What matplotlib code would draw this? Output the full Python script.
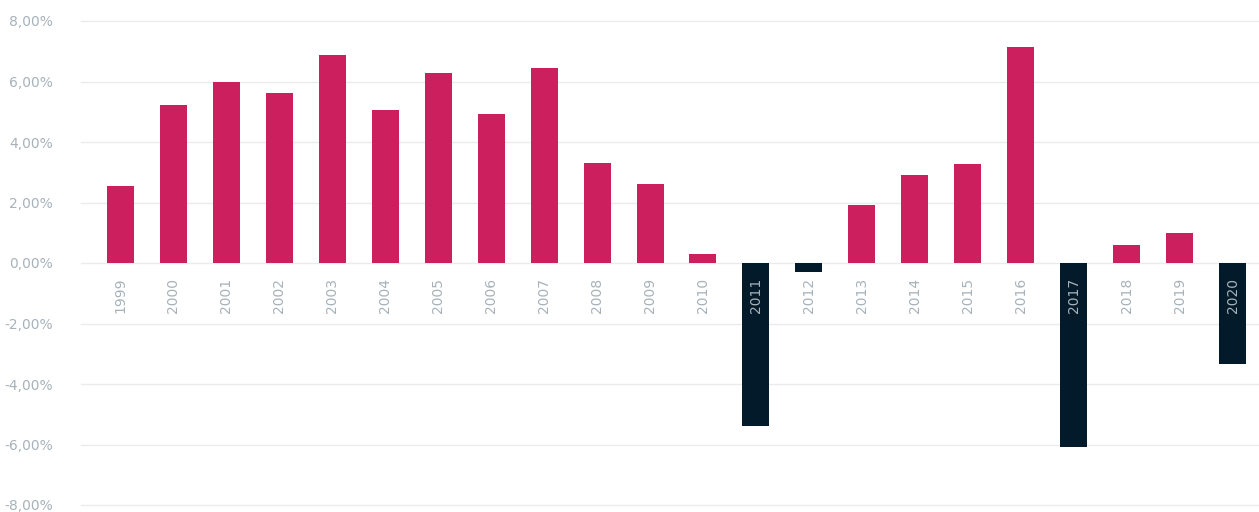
import matplotlib
matplotlib.use('Agg')
import matplotlib.pyplot as plt
from matplotlib.ticker import FuncFormatter, MultipleLocator
import numpy as np

plt.rcParams['font.family'] = ['DejaVu Sans']
plt.rcParams['axes.unicode_minus'] = False

# Yearly change in percent
years = ['1999', '2000', '2001', '2002', '2003', '2004', '2005', '2006',
         '2007', '2008', '2009', '2010', '2011', '2012', '2013', '2014',
         '2015', '2016', '2017', '2018', '2019', '2020']
values = [2.55, 5.22, 5.98, 5.62, 6.88, 5.06, 6.28, 4.93,
          6.45, 3.31, 2.61, 0.30, -5.39, -0.30, 1.92, 2.91,
          3.27, 7.14, -6.08, 0.60, 0.99, -3.34]

pos_color = '#cc1f5d'
neg_color = '#021a29'
label_gray = '#a7b2ba'

fig = plt.figure(figsize=(12.59, 5.12), dpi=100)
ax = fig.add_axes([81 / 1259, 7 / 512, 1 - 81 / 1259, 484 / 512])

x = np.arange(len(years))
colors = [pos_color if v >= 0 else neg_color for v in values]
ax.bar(x, values, width=0.51, color=colors, zorder=3)

ax.set_xlim(-0.746, 21.5)
ax.set_ylim(-8, 8)
ax.yaxis.set_major_locator(MultipleLocator(2))
ax.yaxis.set_major_formatter(FuncFormatter(lambda v, p: f"{v:.2f}%".replace('.', ',')))
ax.grid(axis='y', color='#ebebeb', linewidth=1, zorder=0)
for gl in ax.get_ygridlines():
    gl.set_clip_on(False)
ax.set_xticks([])
ax.tick_params(axis='y', length=0, pad=20, labelsize=10, labelcolor=label_gray)
for s in ax.spines.values():
    s.set_visible(False)

# year labels under the zero line, rotated
for xi, yr in zip(x, years):
    ax.annotate(yr, (xi, 0), xytext=(0, -10.5), textcoords='offset points',
                rotation=90, ha='center', va='top', fontsize=10,
                color=label_gray, zorder=4)

fig.savefig('out.png', dpi=100)
